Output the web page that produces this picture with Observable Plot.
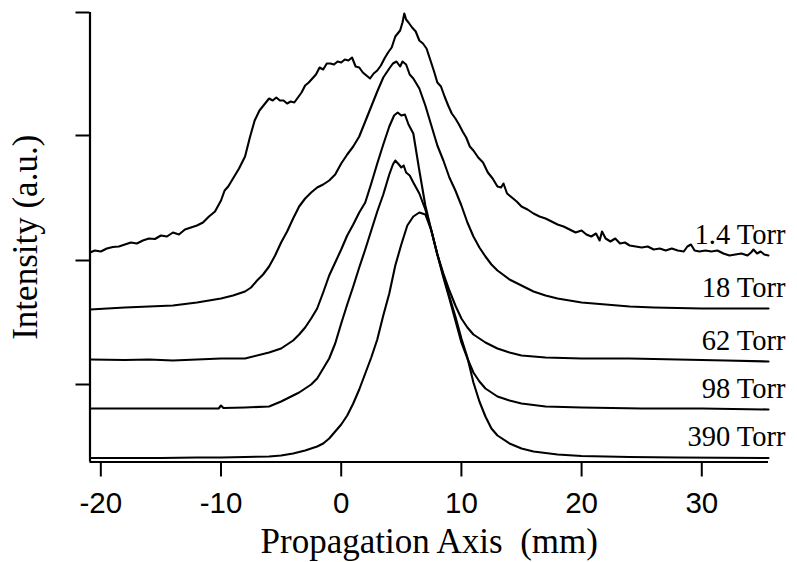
<!DOCTYPE html>
<html>
<head>
<meta charset="utf-8">
<script src="https://cdn.jsdelivr.net/npm/d3@7"></script>
<script src="https://cdn.jsdelivr.net/npm/@observablehq/plot@0.6"></script>
<style>
  html, body { margin: 0; padding: 0; background: #fff; }
  #chart svg { display: block; }
</style>
</head>
<body>
<div id="chart"></div>
<script>
// Propagation axis position (mm) and intensity (a.u.) for each pressure trace
const pos14 = [-20.9,-20.5,-20,-19.5,-19,-18.5,-18,-17.5,-17,-16.5,-16,-15.5,-15,-14.5,-14,-13.5,-13,-12.5,-12,-11.5,-11,-10.5,-10,-9.7,-9.4,-9,-8.5,-8,-7.6,-7.2,-6.8,-6.4,-6,-5.7,-5.4,-5.1,-4.8,-4.5,-4.2,-3.9,-3.6,-3.3,-3,-2.7,-2.4,-2.1,-1.8,-1.5,-1.2,-0.9,-0.6,-0.3,0,0.3,0.6,0.9,1.2,1.5,1.8,2.1,2.4,2.7,3,3.3,3.6,3.9,4.2,4.5,4.7,4.9,5.1,5.25,5.4,5.6,5.9,6.2,6.5,6.8,7.1,7.4,7.7,8,8.3,8.6,8.9,9.2,9.5,9.8,10.1,10.4,10.7,11,11.4,11.8,12.2,12.6,13,13.3,13.5,13.8,14.2,14.6,15,15.5,16,16.5,17,17.5,18,18.5,19,19.5,20,20.4,20.8,21.2,21.5,21.7,22,22.4,22.8,23.2,23.6,24,24.5,25,25.5,26,26.5,27,27.5,28,28.5,28.8,29.1,29.4,29.8,30.3,30.8,31.3,31.8,32.3,32.8,33.3,33.8,34.1,34.3,34.6,34.9,35.2,35.55];
const int14 = [20.95,21.15,21.05,21.35,21.5,21.55,21.75,21.95,21.85,22.15,22.35,22.3,22.65,22.55,22.95,22.75,23.25,23.45,23.65,23.95,24.55,25.05,26.15,27.15,27.55,28.35,29.35,30.55,32.45,34.15,35.15,35.75,36.35,36.15,36.45,36.15,36.15,35.85,36.05,35.95,36.45,36.95,37.65,37.95,38.35,38.75,39.45,39.25,39.85,39.85,39.75,40.05,39.95,40.25,40.15,40.45,39.55,39.45,38.95,38.65,38.35,38.85,39.15,39.65,40.35,40.95,41.45,42.55,42.85,43.15,43.95,44.85,44.25,43.95,43.45,43.05,42.15,41.85,41.35,40.25,39.15,37.95,37.55,36.55,35.65,34.85,34.35,33.75,33.05,32.45,31.55,31.15,30.45,29.95,28.95,28.35,27.55,27.45,27.85,26.85,26.45,26.05,25.55,25.25,24.85,24.55,24.35,24.05,23.75,23.55,23.25,22.95,23.15,22.75,22.55,22.85,22.15,23.05,22.35,22.05,22.35,21.85,21.95,21.65,21.55,21.45,21.55,21.25,21.35,21.15,21.35,21.15,21.05,21.55,21.75,21.15,21.05,21.15,21.05,21.15,20.85,20.65,20.75,20.85,20.65,20.95,21.25,20.85,21.05,20.75,20.65];

const pos18 = [-20.9,-18,-16,-14,-12,-11,-10,-9,-8,-7.5,-7,-6.5,-6,-5.5,-5,-4.5,-4,-3.5,-3,-2.5,-2,-1.5,-1,-0.5,0,0.5,1,1.5,2,2.5,3,3.5,4,4.3,4.6,4.9,5.1,5.4,5.7,6,6.5,7,7.5,8,8.5,9,9.5,10,10.5,11,11.5,12,12.5,13,14,15,16,17,18,20,22,24,26,28,30,32,35.55];
const int18 = [15.25,15.45,15.55,15.65,15.95,16.15,16.35,16.65,17.05,17.45,18.15,18.75,19.55,20.65,21.95,23.05,24.35,25.55,26.35,26.95,27.45,27.75,28.15,28.75,29.85,30.75,31.55,32.55,34.05,35.55,37.05,38.45,39.35,39.85,40.05,39.55,40.05,39.75,38.75,38.35,37.35,35.65,33.65,31.65,30.15,28.45,27.15,25.65,23.95,22.55,21.45,20.55,19.75,19.15,18.25,17.65,17.05,16.65,16.35,15.95,15.75,15.55,15.45,15.4,15.35,15.35,15.35];

const pos62 = [-20.9,-18,-16,-14,-12,-10,-8,-6,-5,-4,-3.5,-3,-2.5,-2,-1.5,-1,-0.5,0,0.5,1,1.5,2,2.5,3,3.5,4,4.4,4.7,5,5.3,5.6,6,6.5,7,7.5,8,8.5,9,9.5,10,10.5,11,12,13,14,15,17,20,24,28,32,35.55];
const int62 = [10.25,10.2,10.25,10.15,10.25,10.35,10.35,10.95,11.35,12.15,12.75,13.45,14.35,15.35,16.95,18.65,19.95,21.25,22.65,23.75,24.95,25.95,27.85,29.85,31.75,33.55,34.65,34.95,34.65,34.75,33.75,32.85,29.15,25.65,23.15,20.75,18.85,17.15,15.65,14.35,13.45,12.75,11.95,11.35,10.95,10.65,10.45,10.35,10.35,10.25,10.15,10.05];

const pos98 = [-20.9,-18,-15,-12,-10.2,-10,-9.8,-8,-6,-5,-4,-3.5,-3,-2.5,-2,-1.5,-1,-0.5,0,0.5,1,1.5,2,2.5,3,3.5,4,4.3,4.5,4.8,5,5.2,5.4,5.7,6,6.5,7,7.5,8,8.5,9,9.5,10,10.5,11,11.5,12,13,14,15,17,20,25,30,35.55];
const int98 = [5.35,5.35,5.35,5.35,5.35,5.65,5.4,5.45,5.55,6.05,6.65,6.95,7.35,7.75,8.35,9.35,10.35,11.85,13.85,15.75,17.55,19.45,21.25,23.15,25.05,26.75,28.75,29.75,30.15,29.75,29.45,29.65,28.95,28.65,27.95,26.85,25.25,23.15,20.75,18.45,16.35,14.15,11.95,10.35,8.95,8.05,7.35,6.55,6.15,5.85,5.55,5.45,5.35,5.35,5.25];

const pos390 = [-20.9,-18,-15,-12,-10,-8,-6,-5,-4,-3,-2,-1.5,-1,-0.5,0,0.5,1,1.5,2,2.5,3,3.5,4,4.5,5,5.5,6,6.5,7,7.5,8,8.5,9,9.5,10,10.5,11,11.5,12,12.5,13,14,15,16,18,20,24,28,35.55];
const int390 = [0.4,0.4,0.4,0.45,0.45,0.5,0.55,0.65,0.85,1.15,1.55,1.85,2.35,3.05,3.75,4.65,5.85,7.25,8.85,10.45,12.25,14.65,16.85,19.65,21.75,23.65,24.55,24.95,24.75,23.15,20.75,18.65,16.55,14.55,12.35,10.45,7.95,6.05,4.55,3.35,2.65,1.85,1.35,1.05,0.75,0.6,0.5,0.45,0.4];

const seriesNames = ["1.4 Torr", "18 Torr", "62 Torr", "98 Torr", "390 Torr"];
const xTicks = [-20, -10, 0, 10, 20, 30];
const yTicks = [7.75, 20.15, 32.65, 44.95];
const xTitle = "Propagation Axis\u00a0 (mm)";
const yTitle = "Intensity (a.u.)";

const positions = [pos14, pos18, pos62, pos98, pos390];
const intensities = [int14, int18, int62, int98, int390];

const rows = seriesNames.flatMap((name, i) => {
  const n = Math.min(positions[i].length, intensities[i].length);
  return positions[i].slice(0, n).map((x, j) => ({series: name, x, y: intensities[i][j]}));
});
const ends = seriesNames.map((name, i) => {
  const n = Math.min(positions[i].length, intensities[i].length);
  return {series: name, x: positions[i][n - 1], y: intensities[i][n - 1]};
});

const chart = Plot.plot({
  width: 797,
  height: 562,
  marginLeft: 89.5,
  marginRight: 29,
  marginTop: 12,
  marginBottom: 100.5,
  x: {domain: [-20.9, 35.55]},
  y: {domain: [0, 44.95]},
  style: {fontFamily: "'Liberation Serif', 'Times New Roman', serif", background: "#fff", color: "#000", overflow: "visible"},
  marks: [
    Plot.axisX({ticks: xTicks, tickSize: 15, tickPadding: 15, tickFormat: d => String(d), fontSize: 29.5, fontFamily: "'Liberation Sans', Arial, sans-serif", strokeWidth: 2, label: null}),
    Plot.axisY({ticks: yTicks, tickSize: 14, tickFormat: () => "", strokeWidth: 2, label: null}),
    Plot.ruleX([-20.9], {strokeWidth: 2.2}),
    Plot.ruleY([0], {strokeWidth: 2.2}),
    Plot.line(rows, {x: "x", y: "y", z: "series", stroke: "#000", strokeWidth: 2.1}),
    Plot.text(ends, {x: "x", y: "y", text: "series", textAnchor: "end", lineAnchor: "middle", dx: 17, dy: -21, fontSize: 28.5, fill: "#000"}),
    Plot.text([xTitle], {text: d => d, frameAnchor: "bottom", textAnchor: "middle", lineAnchor: "middle", dy: 80, fontSize: 35, fill: "#000"}),
    Plot.text([yTitle], {text: d => d, frameAnchor: "left", textAnchor: "middle", lineAnchor: "middle", dx: -64, rotate: -90, fontSize: 35, fill: "#000"})
  ]
});
document.getElementById("chart").appendChild(chart);
</script>
</body>
</html>
